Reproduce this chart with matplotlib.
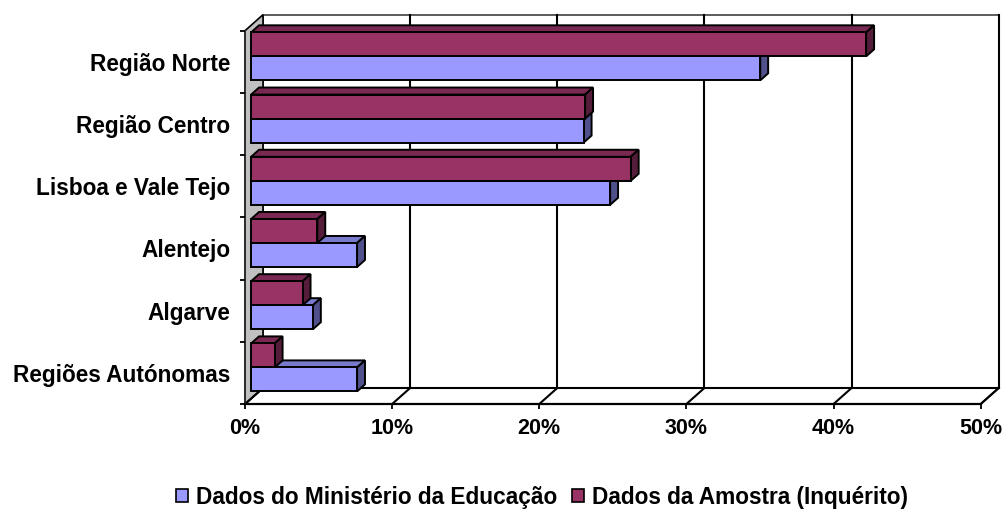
import matplotlib
matplotlib.use("Agg")
import matplotlib.pyplot as plt
import matplotlib.transforms as mtransforms
from matplotlib.patches import Polygon, Patch
from matplotlib.lines import Line2D
import numpy as np

# ---------------- data ----------------
categories = ["Região Norte", "Região Centro", "Lisboa e Vale Tejo",
              "Alentejo", "Algarve", "Regiões Autónomas"]
series_names = ["Dados do Ministério da Educação", "Dados da Amostra (Inquérito)"]
ministerio = [34.6, 22.6, 24.4, 7.2, 4.2, 7.2]
amostra = [41.8, 22.7, 25.8, 4.5, 3.5, 1.6]
x_ticks = [0, 10, 20, 30, 40, 50]
x_tick_labels = ["0%", "10%", "20%", "30%", "40%", "50%"]

# ---------------- style ----------------
FONT = ["Liberation Sans", "DejaVu Sans"]
plt.rcParams["font.family"] = FONT
plt.rcParams["font.weight"] = "bold"

colors = {
    "blue": ("#9999FF", "#7a7acc", "#50508c"),
    "mag": ("#993366", "#7a2952", "#561d3a"),
}

W, H, DPI = 1005, 511, 100
fig = plt.figure(figsize=(W / DPI, H / DPI), dpi=DPI)
fig.patch.set_facecolor("white")

left_px, right_px, top_px, bottom_px = 245, 980.7, 30.7, 404
ax = fig.add_axes([left_px / W, 1 - bottom_px / H,
                   (right_px - left_px) / W, (bottom_px - top_px) / H])
ax.set_xlim(0, 50)
ax.set_ylim(len(categories), 0)
ax.patch.set_visible(False)

DX, DY = 18, 16  # depth vector in pixels (display coords, y up)
ident = mtransforms.IdentityTransform()


def P(x, y, d):
    px, py = ax.transData.transform((x, y))
    return (px + d * DX, py + d * DY)


def poly(pts, fc, ec="black", lw=1.0, z=1):
    p = Polygon(pts, closed=True, facecolor=fc, edgecolor=ec, linewidth=lw,
                transform=ident, clip_on=False, zorder=z, joinstyle="miter")
    ax.add_artist(p)


def line(p1, p2, color="black", lw=1.0, z=1.5):
    l = Line2D([p1[0], p2[0]], [p1[1], p2[1]], color=color, linewidth=lw,
               transform=ident, clip_on=False, zorder=z)
    ax.add_artist(l)


n = len(categories)
# floor
poly([P(0, n, 0), P(50, n, 0), P(50, n, 1), P(0, n, 1)], "white", lw=1.4, z=0.5)
# back wall
poly([P(0, 0, 1), P(50, 0, 1), P(50, n, 1), P(0, n, 1)], "white", ec="#404040", lw=1.2, z=0.5)
# left wall
poly([P(0, 0, 0), P(0, 0, 1), P(0, n, 1), P(0, n, 0)], "#c0c0c0", lw=1.2, z=0.6)
# gridlines
for xv in x_ticks[1:-1]:
    line(P(xv, 0, 1), P(xv, n, 1), lw=1.5, z=0.7)
for xv in x_ticks:
    line(P(xv, n, 0), P(xv, n, 1), lw=1.5, z=0.7)
line(P(50, 0, 1), P(50, n, 1), lw=1.5, z=0.7)
line(P(0, n, 1), P(50, n, 1), lw=1.5, z=0.7)

# bars
bar_h = 0.386
d0, d1 = 0.34, 0.78


def box(x, y_top, y_bot, cols, z):
    front, top, side = cols
    poly([P(0, y_top, d0), P(x, y_top, d0), P(x, y_top, d1), P(0, y_top, d1)], top, lw=1.4, z=z)
    poly([P(x, y_top, d0), P(x, y_bot, d0), P(x, y_bot, d1), P(x, y_top, d1)], side, lw=1.4, z=z)
    poly([P(0, y_top, d0), P(x, y_top, d0), P(x, y_bot, d0), P(0, y_bot, d0)], front, lw=1.4, z=z)


for i, cat in enumerate(categories):
    c = i + 0.5
    z = 2 + i * 0.1
    box(ministerio[i], c, c + bar_h, colors["blue"], z)
    box(amostra[i], c - bar_h, c, colors["mag"], z + 0.05)

# axes / ticks
for s in ["top", "right"]:
    ax.spines[s].set_visible(False)
ax.spines["left"].set_color("#303030")
ax.spines["left"].set_linewidth(1.3)
ax.spines["bottom"].set_linewidth(1.6)
ax.spines["left"].set_zorder(0.8)

ax.set_xticks(x_ticks)
ax.set_xticklabels(x_tick_labels, fontsize=15.5, fontweight="bold")
ax.tick_params(axis="x", direction="out", length=3.6, width=1.3, pad=6.5)

ax.set_yticks(np.arange(0, n + 1))
ax.set_yticklabels([])
ax.set_yticks(np.arange(n) + 0.5, minor=True)
ax.set_yticklabels(categories, minor=True, fontsize=16.3, fontweight="bold")
ax.tick_params(axis="y", which="major", direction="out", length=3.6, width=1.3)
ax.tick_params(axis="y", which="minor", length=0, pad=10.5)

handles = [Patch(facecolor=colors["blue"][0], edgecolor="black", linewidth=1.2),
           Patch(facecolor=colors["mag"][0], edgecolor="black", linewidth=1.2)]
fig.legend(handles, series_names, loc="center", bbox_to_anchor=(542 / W, 1 - 497 / H),
           ncol=2, frameon=False, prop={"family": FONT, "weight": "bold", "size": 16.3},
           handlelength=0.55, handleheight=0.55, handletextpad=0.35, columnspacing=0.65,
           borderpad=0, borderaxespad=0)

fig.savefig("out.png", dpi=DPI, facecolor="white")
